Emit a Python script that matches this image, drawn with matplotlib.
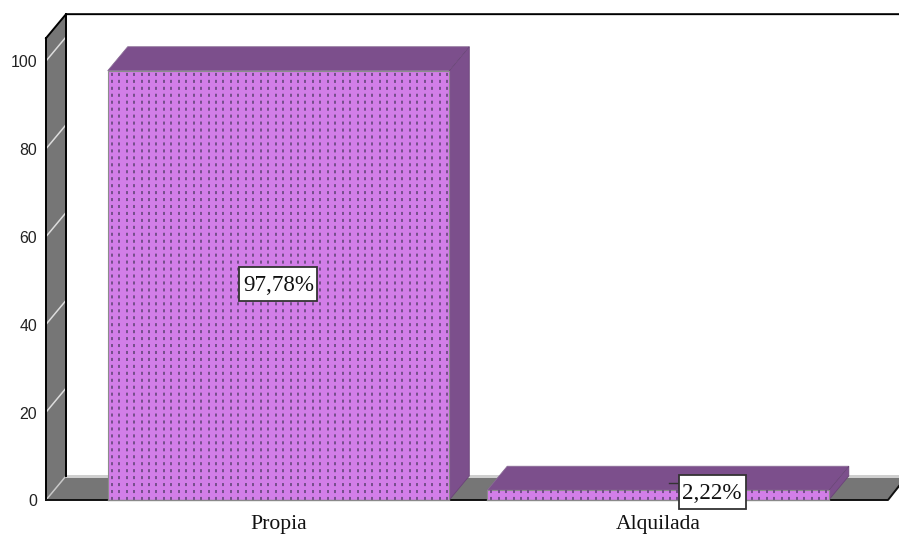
import matplotlib
matplotlib.use("Agg")
import matplotlib.pyplot as plt
from matplotlib.patches import Polygon, Rectangle
import numpy as np

categories = ["Propia", "Alquilada"]
values = [97.78, 2.22]
labels = ["97,78%", "2,22%"]
y_ticks = [0, 20, 40, 60, 80, 100]

W, H = 899, 534
DEPTH_X, DEPTH_Y = 20, 24   # 3-D offset in pixels
FRONT = "#D27EE8"
DARK = "#7C4F8C"
WALL = "#767676"
STRIP = "#CFCFCF"

fig = plt.figure(figsize=(W / 100, H / 100), dpi=100)
L, R, B, T = 46, 888, 500, 61
ax = fig.add_axes([L / W, 1 - B / H, (R - L) / W, (B - T) / H])
ax.set_xlim(-0.6126, 1.606)
ax.set_ylim(0, 100)
ax.axis("off")

sx = (ax.get_xlim()[1] - ax.get_xlim()[0]) / (R - L)   # data per pixel
sy = 100 / (B - T)
dx, dy = DEPTH_X * sx, DEPTH_Y * sy
x0, x1 = ax.get_xlim()
ytop = 105.2
xback = x1 + 11 * sx


def poly(pts, fc, ec="none", lw=0.0, z=1):
    ax.add_patch(Polygon(pts, closed=True, fc=fc, ec=ec, lw=lw, zorder=z, clip_on=False, joinstyle="miter"))


# side wall
poly([(x0, 0), (x0 + dx, dy), (x0 + dx, ytop + dy), (x0, ytop)], WALL, z=1)
# floor
poly([(x0, 0), (x0 + dx, dy), (xback + 10 * sx, dy), (x1, 0)], WALL, z=1)
# pale strip at the rear edge of the floor
poly([(x0 + dx, dy - 1.5 * sy), (x0 + dx, dy + 1.5 * sy), (xback, dy + 1.5 * sy), (xback, dy - 1.5 * sy)], STRIP, z=1)

# wall tick lines
for t in y_ticks[1:]:
    ax.plot([x0, x0 + dx], [t, t + dy], color="#DDDDDD", lw=1.1, zorder=2, clip_on=False)
ax.plot([x0, x0 + dx], [0, dy], color="#C8C8C8", lw=1.1, zorder=2, clip_on=False)

# outlines
k = "black"
ax.plot([x0, x0 + dx, xback], [ytop, ytop + dy, ytop + dy], color=k, lw=1.4, zorder=3, clip_on=False)
ax.plot([x0, x0], [0, ytop], color=k, lw=1.4, zorder=3, clip_on=False)
ax.plot([x0 + dx, x0 + dx], [dy, ytop + dy], color=k, lw=1.4, zorder=3, clip_on=False)
ax.plot([x0, x1, xback], [0, 0, 14 * sy], color="#111111", lw=1.4, zorder=3, clip_on=False)

# bars
xs = np.arange(len(categories))
bw = 0.9
for xc, v in zip(xs, values):
    l, r = xc - bw / 2, xc + bw / 2
    poly([(l, v), (l + dx, v + dy), (r + dx, v + dy), (r, v)], DARK, ec="#8A6C96", lw=0.6, z=4)
    poly([(r, 0), (r + dx, dy), (r + dx, v + dy), (r, v)], DARK, ec="#6A4478", lw=0.6, z=4)
    ax.bar(xc, v, width=bw, color=FRONT, edgecolor="#8C8C8C", linewidth=0.8, zorder=5)
    # vertical dotted pattern of the fill
    cols = np.arange(l + 4.0 * sx, r - 1 * sx, 7.45 * sx)
    ax.vlines(cols, 0, v, colors="#6E4A84", lw=1.3, linestyles=[(0, (1.7, 2.15))], zorder=6)
    ax.plot([l, r], [0, 0], color="#8A8A8A", lw=1.0, zorder=7, clip_on=False)

# data labels: small white boxes with a thin border
label_x = [xs[0], xs[1] + 0.1423]
label_y = [values[0] / 2 + 0.35, 1.8]
box_w = [78, 67]
box_h = 34
ax.plot([xs[1] + 0.03, xs[1] + 0.06], [3.8, 3.8], color="#333333", lw=1, zorder=8)
for x, y, s, w in zip(label_x, label_y, labels, box_w):
    ax.add_patch(Rectangle((x - w * sx / 2, y - box_h * sy / 2), w * sx, box_h * sy,
                           fc="white", ec="#333333", lw=1.3, zorder=9, clip_on=False))
    ax.text(x, y - 0.4, s, family="Liberation Serif", fontsize=16.6, color="#111111",
            ha="center", va="center", zorder=10)

# tick labels
for t in y_ticks:
    ax.text(x0 - 9 * sx, t - 0.1, str(t), family="Liberation Sans", fontsize=11.4, color="#222222",
            ha="right", va="center_baseline", clip_on=False)
for xc, c in zip(xs, categories):
    ax.text(xc, -5.5, c, family="Liberation Serif", fontsize=15.6, color="#111111",
            ha="center", va="center", clip_on=False)

fig.savefig("out.png", dpi=100, facecolor="white")
